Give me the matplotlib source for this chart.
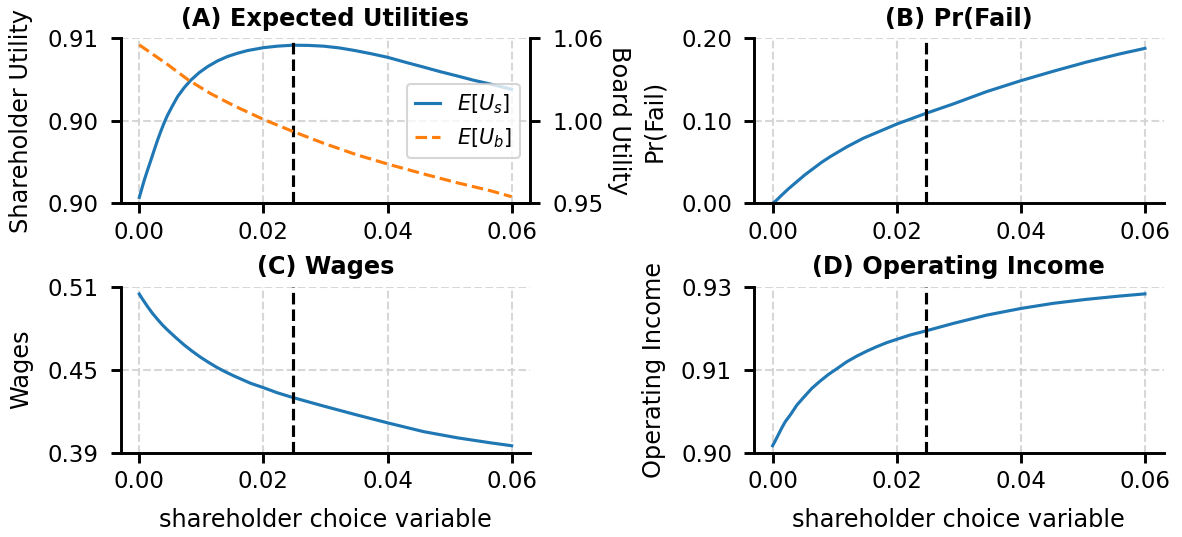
import numpy as np
import matplotlib
matplotlib.use("Agg")
import matplotlib.pyplot as plt
from matplotlib.ticker import FormatStrFormatter

plt.rcParams.update({
    "font.size": 10,
    "axes.labelsize": 11.5,
    "axes.titlesize": 11.5,
    "axes.labelpad": 7,
    "xtick.labelsize": 11,
    "ytick.labelsize": 11,
    "ytick.major.pad": 5.5,
    "legend.fontsize": 10,
    "legend.handlelength": 1.2,
    "axes.linewidth": 1.4,
    "xtick.major.size": 5,
    "ytick.major.size": 5,
    "xtick.major.width": 1.4,
    "ytick.major.width": 1.4,
    "lines.linewidth": 1.5,
})

# values
choice_opt = 0.0247

x_us = [0, 0.00027, 0.0008, 0.00134, 0.00188, 0.00241, 0.00295, 0.00349, 0.00402, 0.00456,
        0.00536, 0.00617, 0.00724, 0.00831, 0.00965, 0.01099, 0.0126, 0.01421, 0.01582, 0.01743,
        0.02, 0.02225, 0.0247, 0.0272, 0.0297, 0.0322, 0.0346, 0.0373, 0.04, 0.0429,
        0.0458, 0.0485, 0.0512, 0.0538, 0.0565, 0.06]
util_s = [0.90051, 0.90081, 0.90141, 0.90194, 0.90246, 0.90298, 0.90350, 0.90397, 0.90441, 0.90480,
          0.90529, 0.90576, 0.90623, 0.90662, 0.90701, 0.90732, 0.90762, 0.90785, 0.90802, 0.90816,
          0.90831, 0.90839, 0.90844, 0.90843, 0.90839, 0.90830, 0.90817, 0.90800, 0.90781, 0.90755,
          0.90730, 0.90706, 0.90684, 0.90662, 0.90642, 0.90614]

x_ub = [0, 0.0046, 0.008, 0.0115, 0.0153, 0.02, 0.0247, 0.0297, 0.0351, 0.04,
        0.0458, 0.0512, 0.0565, 0.06]
util_b = [1.0528, 1.0402, 1.0302, 1.0218, 1.0140, 1.0054, 0.9978, 0.9902, 0.9828, 0.9770,
          0.9707, 0.9651, 0.9601, 0.9562]

x_fail = [0, 0.0006, 0.0012, 0.0025, 0.0039, 0.0052, 0.0066, 0.0079, 0.0093, 0.012, 0.0146,
          0.0173, 0.02, 0.0247, 0.0291, 0.0345, 0.04, 0.0452, 0.0505, 0.0559, 0.06]
pr_fail = [0, 0.0035, 0.008, 0.0172, 0.0262, 0.0345, 0.0424, 0.0497, 0.0566, 0.0686, 0.0788,
           0.0874, 0.096, 0.109, 0.1204, 0.1354, 0.1486, 0.16, 0.171, 0.181, 0.1878]

x_wage = [0, 0.00054, 0.00134, 0.00214, 0.00295, 0.00375, 0.00456, 0.0059, 0.00724, 0.00858,
          0.00992, 0.01126, 0.0126, 0.01394, 0.01528, 0.01796, 0.02, 0.02225, 0.0247, 0.0297,
          0.0351, 0.04, 0.0458, 0.0512, 0.0565, 0.06]
wages = [0.50198, 0.49834, 0.49332, 0.48865, 0.48454, 0.48067, 0.47725, 0.47200, 0.46699, 0.46254,
         0.45844, 0.45479, 0.45137, 0.44840, 0.44567, 0.44065, 0.43769, 0.43415, 0.43096, 0.42503,
         0.41888, 0.41352, 0.40748, 0.40326, 0.39984, 0.39779]

x_inc = [0, 0.00043, 0.00097, 0.0015, 0.00204, 0.00284, 0.00391, 0.00499, 0.00633, 0.00767,
         0.00901, 0.01035, 0.01196, 0.01357, 0.01517, 0.01678, 0.01839, 0.02, 0.02214, 0.0247,
         0.0291, 0.0345, 0.04, 0.0452, 0.0505, 0.0559, 0.06]
op_income = [0.90170, 0.90255, 0.90369, 0.90480, 0.90583, 0.90697, 0.90868, 0.90999, 0.91156, 0.91281,
             0.91395, 0.91492, 0.91612, 0.91709, 0.91794, 0.91871, 0.91940, 0.91997, 0.92071, 0.92142,
             0.92270, 0.92413, 0.92527, 0.92615, 0.92683, 0.92740, 0.92778]

xticks = [0.0, 0.02, 0.04, 0.06]
ylim_us = (0.9002, 0.9088)
ylim_ub = (0.952, 1.057)
ylim_fail = (0.0, 0.2)
ylim_wage = (0.393, 0.507)
ylim_inc = (0.9005, 0.929)


def style(ax, ylim):
    ax.set_ylim(ylim)
    ax.set_yticks(np.linspace(ylim[0], ylim[1], 3))
    ax.yaxis.set_major_formatter(FormatStrFormatter('%.2f'))
    ax.set_xticks(xticks)
    ax.xaxis.set_major_formatter(FormatStrFormatter('%.2f'))
    ax.grid(True, linestyle='--', color='lightgray', linewidth=1.0, alpha=0.9)
    ax.set_axisbelow(True)
    ax.spines['top'].set_visible(False)
    ax.spines['right'].set_visible(False)
    ax.axvline(choice_opt, color='k', linestyle='--', linewidth=1.5)


fig = plt.figure(figsize=(7.88, 3.58), dpi=150)
W = 0.3465
axA = fig.add_axes([0.1021, 0.6214, W, 0.3073])
axB = fig.add_axes([0.6379, 0.6214, W, 0.3073])
axC = fig.add_axes([0.1021, 0.1570, W, 0.3090])
axD = fig.add_axes([0.6379, 0.1570, W, 0.3090])

# (A)
l1, = axA.plot(x_us, util_s, color='#1f77b4', label=r'$E[U_s]$')
style(axA, ylim_us)
axA.set_ylabel('Shareholder Utility')
axA.set_title('(A) Expected Utilities', fontweight='bold')
axA2 = axA.twinx()
l2, = axA2.plot(x_ub, util_b, color='#ff7f0e', linestyle='--', label=r'$E[U_b]$')
axA2.set_ylim(ylim_ub)
axA2.set_yticks(np.linspace(ylim_ub[0], ylim_ub[1], 3))
axA2.yaxis.set_major_formatter(FormatStrFormatter('%.2f'))
axA2.spines['top'].set_visible(False)
axA2.set_ylabel('Board Utility', rotation=270, va='bottom', labelpad=2)
axA2.legend([l1, l2], [l1.get_label(), l2.get_label()], loc='center right')

# (B)
axB.plot(x_fail, pr_fail, color='#1f77b4')
style(axB, ylim_fail)
axB.set_ylabel('Pr(Fail)')
axB.set_title('(B) Pr(Fail)', fontweight='bold')

# (C)
axC.plot(x_wage, wages, color='#1f77b4')
style(axC, ylim_wage)
axC.set_ylabel('Wages')
axC.set_title('(C) Wages', fontweight='bold')
axC.set_xlabel('shareholder choice variable')

# (D)
axD.plot(x_inc, op_income, color='#1f77b4')
style(axD, ylim_inc)
axD.set_ylabel('Operating Income')
axD.set_title('(D) Operating Income', fontweight='bold')
axD.set_xlabel('shareholder choice variable')

fig.savefig('out.png', dpi=150)
